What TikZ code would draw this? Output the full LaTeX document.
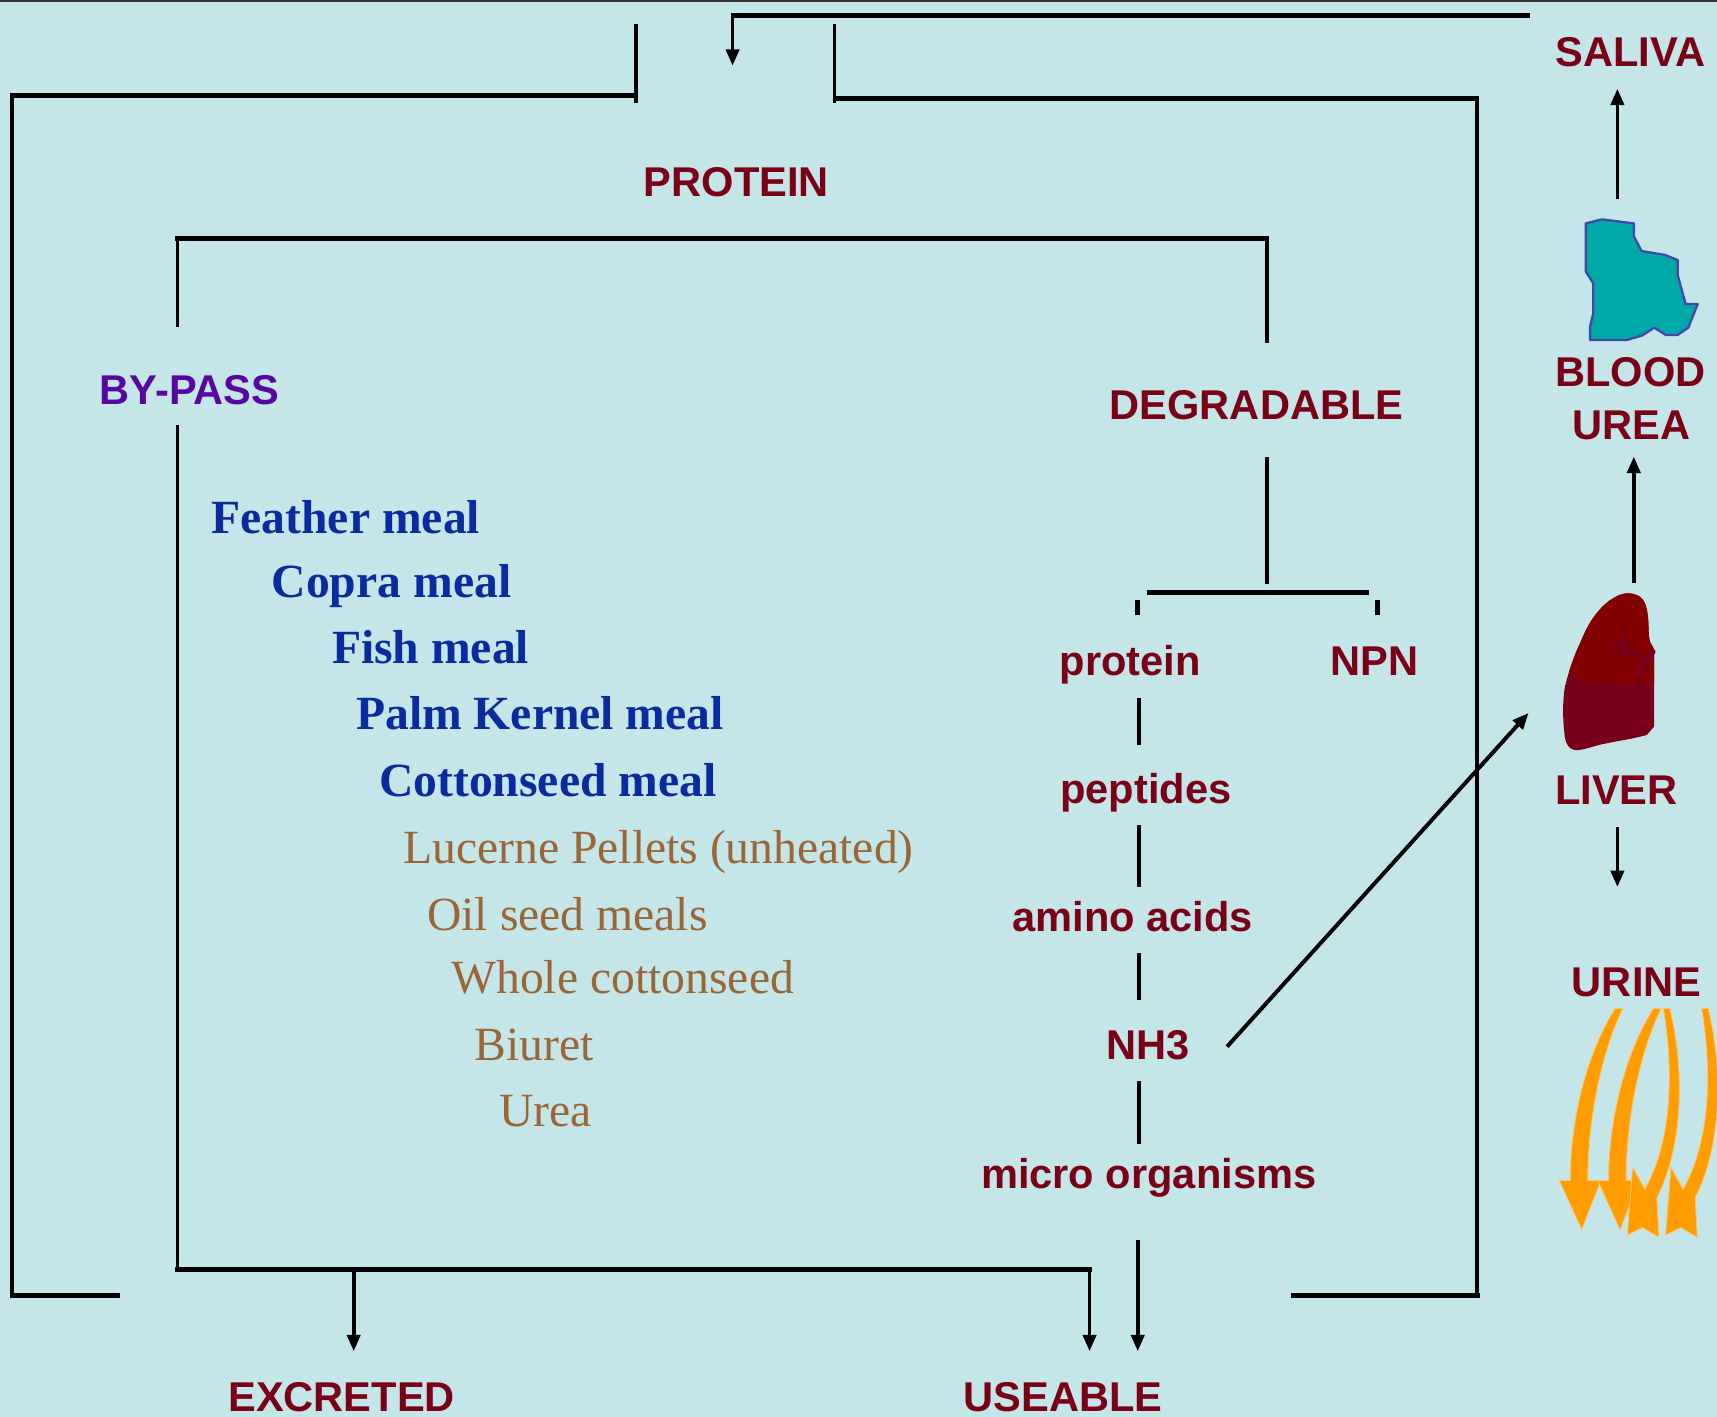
\documentclass[tikz,border=0pt]{standalone}
\usepackage{fontspec}
\setmainfont{Liberation Serif}
\newfontfamily\labelfont{Liberation Sans}
\usetikzlibrary{arrows.meta}

\definecolor{bgcol}{RGB}{196,230,232}
\definecolor{maroon}{RGB}{122,0,24}
\definecolor{feedblue}{RGB}{10,42,160}
\definecolor{feedbrown}{RGB}{155,102,55}
\definecolor{bypasspurple}{RGB}{88,6,160}
\definecolor{kidneyfill}{RGB}{0,168,168}
\definecolor{kidneyedge}{RGB}{68,68,176}
\definecolor{liverup}{RGB}{132,0,0}
\definecolor{liverlow}{RGB}{120,0,24}
\definecolor{livervein}{RGB}{112,0,32}
\definecolor{urineorange}{RGB}{255,156,0}
\definecolor{urinelight}{RGB}{255,196,110}

\tikzset{
  lbl/.style={font=\labelfont\bfseries\fontsize{38}{44}\selectfont, text=maroon, anchor=base, inner sep=0pt},
  feedA/.style={font=\bfseries\fontsize{43.5}{50}\selectfont, text=feedblue, anchor=base west, inner sep=0pt},
  feedB/.style={font=\fontsize{43.5}{50}\selectfont, text=feedbrown, anchor=base west, inner sep=0pt},
  hline/.style={line width=4.6pt, black},
  vline/.style={line width=3.4pt, black},
  cline/.style={line width=4.2pt, black},
  arr/.style={-{Triangle[length=15pt,width=12pt]}},
  urinearrow/.style={fill=urineorange, draw=urinelight, line width=0.8pt, line join=round},
}

\begin{document}
\begin{tikzpicture}[x=1pt,y=-1pt]
  % page and background
  \fill[bgcol] (0,0) rectangle (1568,1294);
  \useasboundingbox (0,0) rectangle (1568,1294);
  \draw[line width=2.4pt, black!80] (0,1) -- (1568,1);

  % ---- labels ----
  \node[lbl] (protein) at (672.5,179) {PROTEIN};
  \node[lbl, text=bypasspurple] (bypass) at (173,369) {BY-PASS};
  \node[lbl] (degradable) at (1147.5,383.5) {DEGRADABLE};
  \node[lbl] (saliva) at (1489,61) {SALIVA};
  \node[lbl] (blood) at (1489,353) {BLOOD};
  \node[lbl] (urea) at (1490,401) {UREA};
  \node[lbl] (liver) at (1476,735) {LIVER};
  \node[lbl] (urine) at (1494.6,909.6) {URINE};
  \node[lbl] (prot) at (1032,616.5) {protein};
  \node[lbl] (npn) at (1255,616.5) {NPN};
  \node[lbl] (pept) at (1046.5,733.6) {peptides};
  \node[lbl] (amino) at (1034.5,850.8) {amino acids};
  \node[lbl] (nh3) at (1048.7,967.8) {NH3};
  \node[lbl] (micro) at (1049,1085) {micro organisms};
  \node[lbl] (excreted) at (312,1289) {EXCRETED};
  \node[lbl] (useable) at (971,1289) {USEABLE};

  % ---- by-pass feeds ----
  \node[feedA] (f1) at (193,487) {Feather meal};
  \node[feedA] (f2) at (248,545.5) {Copra meal};
  \node[feedA] (f3) at (303,605.8) {Fish meal};
  \node[feedA] (f4) at (325,666.6) {Palm Kernel meal};
  \node[feedA] (f5) at (346,727.5) {Cottonseed meal};
  \node[feedB] (f6) at (368,788.4) {Lucerne Pellets (unheated)};
  \node[feedB] (f7) at (390,849.3) {Oil seed meals};
  \node[feedB] (f8) at (412,907.7) {Whole cottonseed};
  \node[feedB] (f9) at (433,968.6) {Biuret};
  \node[feedB] (f10) at (456,1028.9) {Urea};

  % ---- outer loop (intake and recycling) ----
  \draw[hline] (668,14) -- (1397,14);
  \draw[vline, arr] (669,13) -- (669,60);
  \draw[vline] (581,22) -- (581,94);
  \draw[hline] (9,87.5) -- (582,87.5);
  \draw[vline] (11,86) -- (11,1185);
  \draw[hline] (9,1183) -- (110,1183);
  \draw[vline] (762,22) -- (762,94);
  \draw[hline] (761,90) -- (1351,90);
  \draw[vline] (1349,88) -- (1349,1185);
  \draw[hline] (1179,1183) -- (1352,1183);

  % ---- inner split: by-pass / degradable ----
  \draw[hline] (160,218) -- (1159,218);
  \draw[vline] (162,216) -- (162,299);
  \draw[cline] (1157,216) -- (1157,313);
  \draw[vline] (162,388) -- (162,1161);
  \draw[hline] (160,1159) -- (997,1159);
  \draw[vline, arr] (995,1161) -- (995,1234);
  \draw[vline, arr] (323,1161) -- (323,1234);
  \draw[vline, arr] (1039,1132) -- (1039,1234);

  % ---- degradable branch ----
  \draw[cline] (1157,417) -- (1157,533);
  \draw[cline] (1047,541) -- (1250,541);
  \draw[cline] (1039,548) -- (1039,562);
  \draw[cline] (1258,548) -- (1258,562);
  \draw[cline] (1040,637) -- (1040,680);
  \draw[cline] (1040,753) -- (1040,810);
  \draw[cline] (1040,870) -- (1040,913);
  \draw[cline] (1040,987) -- (1040,1045);

  % ammonia to the liver
  \draw[line width=3.6pt, arr] (1120.6,955.8) -- (1396,651);

  % ---- right column arrows ----
  \draw[vline, arr] (1477,182) -- (1477,81);
  \draw[vline, arr] (1492,532) -- (1492,417);
  \draw[vline, arr] (1477,755) -- (1477,810);

  % ---- kidney ----
  \draw[fill=kidneyfill, draw=kidneyedge, line width=2pt, line join=round]
    (1448.1,204.0) -- (1462.7,200.3) -- (1492.2,204.0) -- (1492.2,216.1)
    -- (1499.2,229.2) -- (1520.5,232.8) -- (1532.1,237.4) -- (1532.1,251.1)
    -- (1539.4,277.6) -- (1550.4,277.6) -- (1541.8,299.3) -- (1532.1,305.9)
    -- (1521.2,305.9) -- (1510.7,299.3) -- (1499.2,306.6) -- (1485.5,310.5)
    -- (1452.0,310.5) -- (1452.0,298.3) -- (1455.0,286.1) -- (1455.0,258.7)
    -- (1448.1,248.0) -- cycle;

  % ---- liver ----
  \def\liverpath{(1510.5,663.6) -- (1503.8,671.2)
    .. controls (1490,675) and (1480,676) .. (1467.2,678.8)
    .. controls (1455,681) and (1447,685) .. (1440,685)
    .. controls (1432,685) and (1429,678) .. (1428.5,668)
    .. controls (1427,655) and (1427,640) .. (1429.1,627.1)
    .. controls (1433,612) and (1437,600) .. (1442.9,587.5)
    .. controls (1448,575) and (1453,566) .. (1458.1,560.1)
    .. controls (1464,552) and (1476,542) .. (1486.1,541.8)
    .. controls (1500,542) and (1503,550) .. (1504.5,560)
    .. controls (1506,570) and (1505,580) .. (1506.8,586.0)
    -- (1510.5,593.0) -- cycle}
  \fill[liverlow] \liverpath;
  \begin{scope}
    \clip \liverpath;
    \fill[liverup] (1420,535) -- (1430.7,613.4)
      .. controls (1445,621) and (1455,624) .. (1467.2,624)
      -- (1515,624) -- (1515,535) -- cycle;
  \end{scope}
  \draw[livervein, line width=3.6pt, line cap=round, line join=round]
    (1510.4,595.1) -- (1499.1,608.8) -- (1496.1,622.5);
  \draw[livervein, line width=3.2pt, line cap=round, line join=round]
    (1483.9,574.7) -- (1486.1,593.6) -- (1500.7,600.3);
  \draw[livervein, line width=2.8pt, line cap=round]
    (1471.7,583.8) -- (1486.1,593.6);
  \draw[livervein, line width=2.8pt, line cap=round]
    (1475.7,595.1) -- (1488.5,596.6);

  % ---- urine arrows ----
  % first two: shafts curving down from the upper right
  \foreach \dx in {0,35} {
    \begin{scope}[xshift=\dx]
      \path[urinearrow]
        (1475,921) .. controls (1450,960) and (1434,1020) .. (1434,1078)
        -- (1424,1078) -- (1444.4,1123) -- (1462,1078) -- (1450,1078)
        .. controls (1450,1020) and (1463,960) .. (1482,921) -- cycle;
    \end{scope}
  }
  % last two: shafts bowing right, then hooking down-left
  \foreach \dx in {0,35} {
    \begin{scope}[xshift=\dx]
      \path[urinearrow]
        (1519,921) .. controls (1528,975) and (1528,1040) .. (1502,1086)
        -- (1491,1066) -- (1486,1128) -- (1500,1121) -- (1515,1130)
        -- (1513,1094)
        .. controls (1538,1045) and (1538,975) .. (1525,921) -- cycle;
    \end{scope}
  }
\end{tikzpicture}
\end{document}
